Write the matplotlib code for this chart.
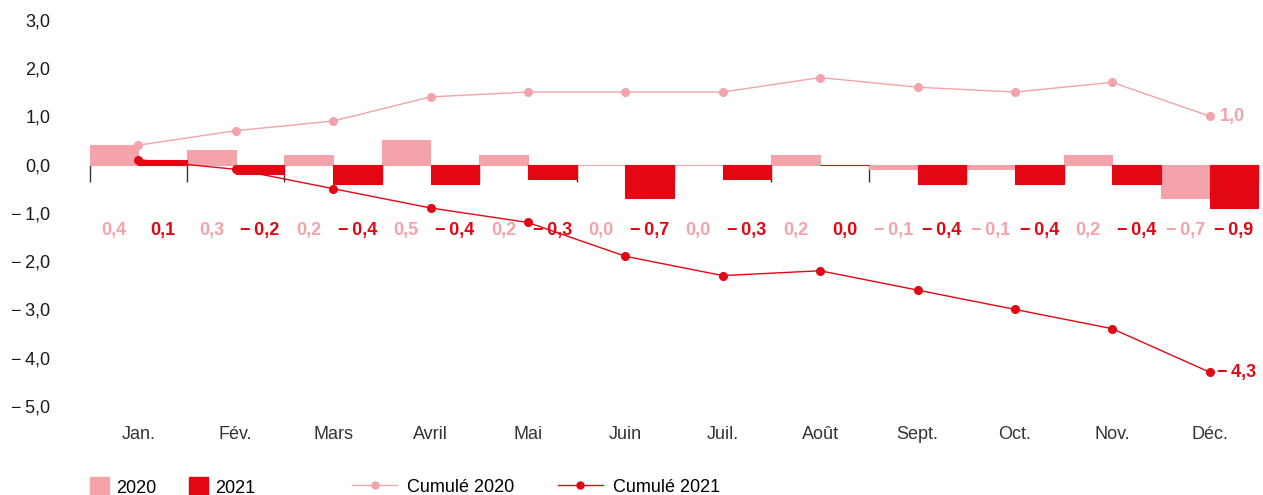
import numpy as np
import matplotlib
matplotlib.use("Agg")
import matplotlib.pyplot as plt
from matplotlib.patches import Patch
from matplotlib.lines import Line2D

plt.rcParams['font.family'] = ['Liberation Sans', 'DejaVu Sans']

months = ["Jan.", "Fév.", "Mars", "Avril", "Mai", "Juin", "Juil.", "Août",
          "Sept.", "Oct.", "Nov.", "Déc."]
vals_2020 = [0.4, 0.3, 0.2, 0.5, 0.2, 0.0, 0.0, 0.2, -0.1, -0.1, 0.2, -0.7]
vals_2021 = [0.1, -0.2, -0.4, -0.4, -0.3, -0.7, -0.3, 0.0, -0.4, -0.4, -0.4, -0.9]
cum_2020 = [0.4, 0.7, 0.9, 1.4, 1.5, 1.5, 1.5, 1.8, 1.6, 1.5, 1.7, 1.0]
cum_2021 = [0.1, -0.1, -0.5, -0.9, -1.2, -1.9, -2.3, -2.2, -2.6, -3.0, -3.4, -4.3]
end_2020 = "1,0"
end_2021 = "\u2212\u20094,3"
yticks = [3, 2, 1, 0, -1, -2, -3, -4, -5]

PINK = "#F4A3AA"
RED = "#E30613"


def fmt(v):
    s = "{:.1f}".format(abs(v)).replace(".", ",")
    if round(v, 1) < 0:
        s = "\u2212\u2009" + s
    return s


fig = plt.figure(figsize=(12.63, 4.95), dpi=100)
ax = fig.add_axes([60 / 1263, 80 / 495, 1203 / 1263, 415 / 495])

x = np.arange(len(months))
w = 0.5
ax.bar(x - w / 2, vals_2020, width=w, color=PINK, edgecolor=PINK, linewidth=0.8, zorder=2)
ax.bar(x + w / 2, vals_2021, width=w, color=RED, edgecolor=RED, linewidth=0.8, zorder=2)

# group separators under the zero line
ax.vlines(np.arange(len(months) + 1) - 0.5, -0.37, 0, color="#333333", linewidth=1, zorder=1)

ax.plot(x, cum_2020, color=PINK, lw=1, marker="o", ms=5.5, zorder=3)
ax.plot(x, cum_2021, color=RED, lw=1, marker="o", ms=5.5, zorder=4)

label_y = -1.36
for i in range(len(months)):
    ax.text(x[i] - w / 2, label_y, fmt(vals_2020[i]), color=PINK, fontsize=13,
            fontweight="bold", ha="center", va="center")
    ax.text(x[i] + w / 2, label_y, fmt(vals_2021[i]), color=RED, fontsize=13,
            fontweight="bold", ha="center", va="center")

ax.annotate(end_2020, (x[-1], cum_2020[-1]), xytext=(7, 0), textcoords="offset points",
            color=PINK, fontsize=13, fontweight="bold", ha="left", va="center")
ax.annotate(end_2021, (x[-1], cum_2021[-1]), xytext=(5, 0), textcoords="offset points",
            color=RED, fontsize=13, fontweight="bold", ha="left", va="center")

ax.set_xlim((60 - 138.3) / 97.4, (1263 - 138.3) / 97.4)
ax.set_ylim((164.5 - 415) / 48.3, 164.5 / 48.3)

ax.set_yticks(yticks)
ax.set_yticklabels([fmt(t) for t in yticks], fontsize=13, color="#1a1a1a")
ax.set_xticks(x)
ax.set_xticklabels(months, fontsize=13, color="#333333")
ax.tick_params(axis="y", length=0, pad=7)
ax.tick_params(axis="x", length=0, pad=8)
for s in ax.spines.values():
    s.set_visible(False)

bar_handles = [Patch(color=PINK, label="2020"), Patch(color=RED, label="2021")]
fig.legend(handles=bar_handles, loc="center left", bbox_to_anchor=(90 / 1263, 8 / 495),
           ncol=2, frameon=False, fontsize=13, borderpad=0, borderaxespad=0,
           handlelength=1.05, handleheight=1.15, handletextpad=0.4, columnspacing=1.8)

line_handles = [Line2D([], [], color=PINK, lw=1, marker="o", ms=5, label="Cumulé 2020"),
                Line2D([], [], color=RED, lw=1, marker="o", ms=5, label="Cumulé 2021")]
fig.legend(handles=line_handles, loc="center left", bbox_to_anchor=(352 / 1263, 8 / 495),
           ncol=2, frameon=False, fontsize=13, borderpad=0, borderaxespad=0,
           handlelength=2.5, handletextpad=0.55, columnspacing=2.4)

fig.savefig("out.png", dpi=100)
